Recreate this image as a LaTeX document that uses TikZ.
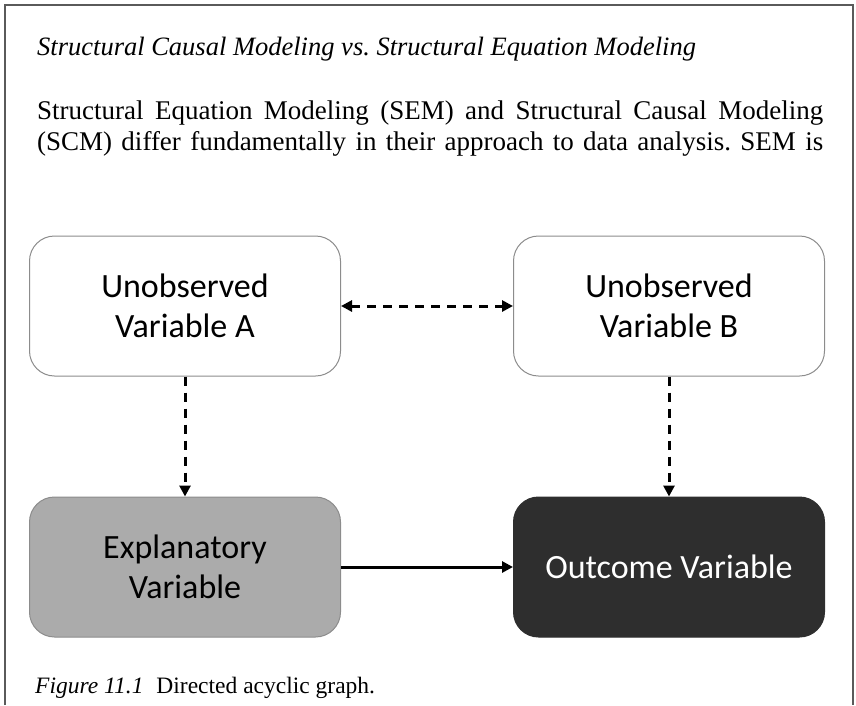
\documentclass[tikz,border=0pt]{standalone}
\usepackage{fontspec}
\setmainfont{Liberation Serif}
\newfontfamily\boxfont{Carlito}
\usetikzlibrary{arrows.meta}

\definecolor{framegray}{HTML}{5A5A5A}
\definecolor{edgegray}{HTML}{8C8C8C}
\definecolor{midgray}{HTML}{ABABAB}
\definecolor{darkfill}{HTML}{2E2E2E}

\begin{document}
\frenchspacing
\begin{tikzpicture}[x=1pt,y=-1pt,
  txt/.style={anchor=base west, inner sep=0pt, font=\fontsize{27}{31}\selectfont},
  varbox/.style={rounded corners=25pt, minimum width=311pt, minimum height=140pt,
    inner sep=0pt, align=center, draw=edgegray, line width=1pt,
    font=\boxfont\fontsize{34}{40}\selectfont},
  link/.style={line width=3pt, -{Triangle[length=11pt,width=11pt]}},
  dlink/.style={link, dash pattern=on 9pt off 7pt},
]
\useasboundingbox (0,0) rectangle (856,705);

% page frame, open at the bottom
\draw[framegray, line width=1.5pt] (5,705) -- (5,5) -- (853,5) -- (853,705);

% heading and opening text
\node[txt, font=\fontsize{26.5}{31}\selectfont\itshape] (title) at (37,55)
  {Structural Causal Modeling vs. Structural Equation Modeling};
\node[txt] (lineone) at (37,119)
  {\makebox[786pt][s]{Structural Equation Modeling (SEM) and Structural Causal Modeling}};
\node[txt] (linetwo) at (37,150)
  {\makebox[786pt][s]{(SCM) differ fundamentally in their approach to data analysis. SEM is}};

% variables
\node[varbox, fill=white] (A) at (185,306) {Unobserved\\Variable A};
\node[varbox, fill=white] (B) at (669,306) {Unobserved\\Variable B};
\node[varbox, fill=midgray] (E) at (185,567) {Explanatory\\Variable};
\node[varbox, fill=darkfill, draw=darkfill, text=white] (O) at (669,567) {Outcome Variable};

% connectors
\draw[dlink, {Triangle[length=11pt,width=11pt]}-{Triangle[length=11pt,width=11pt]}] (A) -- (B);
\draw[dlink] (A) -- (E);
\draw[dlink] (B) -- (O);
\draw[link] (E) -- (O);

% caption
\node[txt, font=\fontsize{23.5}{28}\selectfont] (caption) at (35,693)
  {\textit{Figure 11.1}\hspace{0.3em} Directed acyclic graph.};
\end{tikzpicture}
\end{document}
